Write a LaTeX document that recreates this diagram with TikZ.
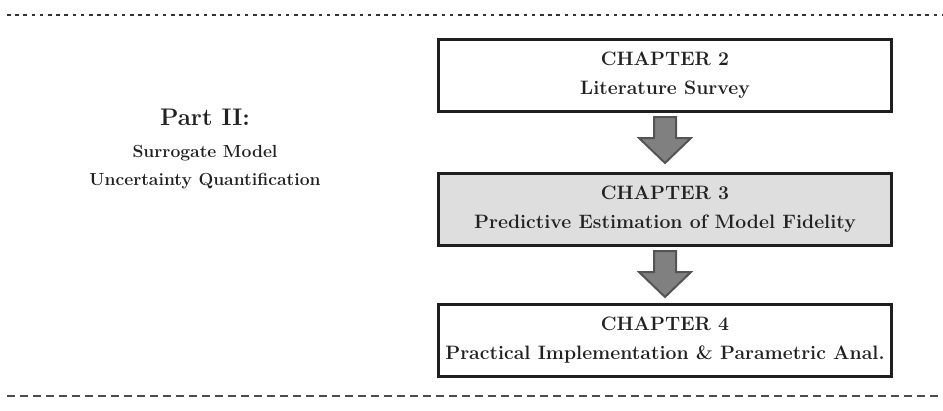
\documentclass[tikz,border=0pt]{standalone}
\usepackage{fontspec}
\usetikzlibrary{positioning}
\newcommand{\chapfont}{\bfseries\fontsize{19.4}{29}\selectfont}
\tikzset{
  chapbox/.style={draw=black!88,line width=3pt,minimum width=453pt,minimum height=72pt,
    align=center,inner sep=0pt,text=black!87,font=\chapfont,execute at begin node={\rule{0pt}{24pt}}},
  fatarrow/.style={draw=black!67,fill=black!50,line width=2pt,line join=miter,
    to path={++(-11pt,-4pt) -- ++(0,-21pt) -- ++(-15pt,0) -- ++(26pt,-25pt) -- ++(26pt,25pt) -- ++(-15pt,0) -- ++(0,21pt) -- cycle}},
  topdash/.style={draw=black!80,line width=2.8pt,dash pattern=on 3.5pt off 4.7pt},
  botdash/.style={draw=black!70,line width=1.2pt,dash pattern=on 8pt off 5pt},
}
\begin{document}
\begin{tikzpicture}[x=1pt,y=1pt]
\useasboundingbox (0,0) rectangle (943,-410);
\draw[topdash] (7,-15)--(943,-15);
\draw[botdash] (7,-396)--(943,-396);
\node[chapbox] (ch2) at (665,-75.5) {CHAPTER 2\\Literature Survey};
\node[chapbox,fill=black!13,below=59pt of ch2] (ch3) {CHAPTER 3\\Predictive Estimation of Model Fidelity};
\node[chapbox,below=56pt of ch3] (ch4) {CHAPTER 4\\Practical Implementation \& Parametric Anal.};
\draw[fatarrow] (ch2.south) to (ch3.north);
\draw[fatarrow] (ch3.south) to (ch4.north);
\node[align=center,text=black!87,font=\bfseries\fontsize{17.5}{28}\selectfont] (part) at (205,-149)
  {{\fontsize{24}{28}\selectfont Part II:}\\[4pt]Surrogate Model\\Uncertainty Quantification};
\end{tikzpicture}
\end{document}
